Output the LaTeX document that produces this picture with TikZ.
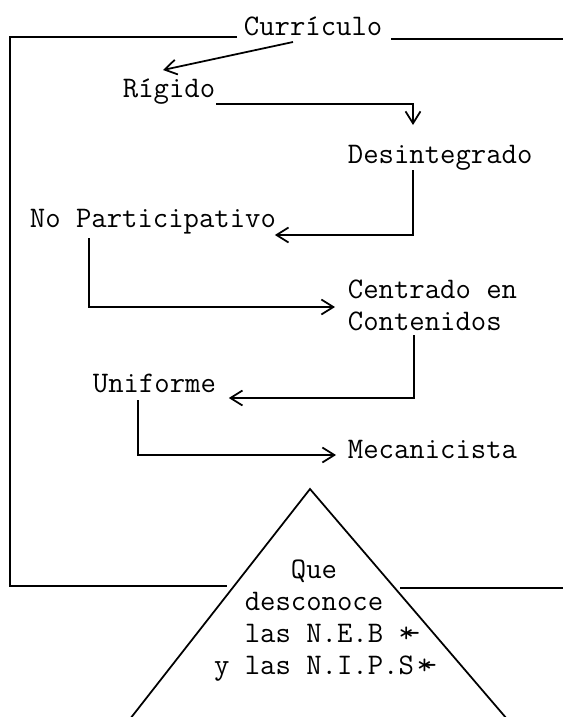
\documentclass[tikz,border=0pt]{standalone}
\usetikzlibrary{calc,arrows.meta}
\tikzset{
  lbl/.style={font=\ttfamily\fontsize{17}{18.2}\selectfont, inner sep=0pt},
  arr/.style={-{Straight Barb[length=2.4mm,width=3mm]}},
}
\begin{document}
\begin{tikzpicture}[x=0.02cm, y=-0.02cm, line width=1pt]
        \useasboundingbox (0,0) rectangle (563,717);

        %Curriculo
        \node [lbl, anchor=base west] (cur)at(243,35){Currículo};
        %Rigido
        \node [lbl, anchor=base west] (rig)at(122,97){Rígido};
        %Desintegrado
        \node [lbl, anchor=base west] (des)at(347,163){Desintegrado};
        %No Participativo
        \node [lbl, anchor=base west] (nop)at(29,227){No Participativo};
        %Centrado en Contenidos
        \node [lbl, anchor=west, align=left] (cen)at(347,305){Centrado en\\Contenidos};
        %Uniforme
        \node [lbl, anchor=base west] (uni)at(92,392){Uniforme};
        %Mecanicista
        \node [lbl, anchor=base west] (mec)at(347,458){Mecanicista};

        %Triangulo
        \coordinate (apex) at (310,489);
        \coordinate (tl) at (130,719);
        \coordinate (tr) at (507,719);
        \draw (tl)--(apex)--(tr);
        \node [lbl, align=center] (que)at(314,621){Que\\desconoce\\las N.E.B\rlap{ *\kern-0.3em-}\\y las N.I.P.S\rlap{\kern0.1em*\kern-0.35em-}};

        %Marco
        \coordinate (m1) at (10,37);
        \coordinate (m2) at (10,586);
        \draw ($(cur.base west)+(-6,2)$)--(m1)--(m2)--(227,586);
        \draw ($(cur.base east)+(8,4)$)--(563,39);
        \draw (400,588)--(563,588);

        \draw [arr]($(cur.base west)+(50,7)$)--($(rig.base west)+(41,-27)$);
        \draw [arr]($(rig.base east)+(0,7)$)-|($(des.base west)+(66,-38)$);
        \draw [arr]($(des.base west)+(66,7)$)|-($(nop.base east)+(-2,8)$);
        \draw [arr]($(nop.base west)+(60,11)$)|-($(cen.west)+(-12,2)$);
        \draw [arr]($(cen.west)+(67,30)$)|-($(uni.base east)+(12,6)$);
        \draw [arr]($(uni.base west)+(46,8)$)|-($(mec.base west)+(-11,-3)$);

    \end{tikzpicture}
\end{document}
